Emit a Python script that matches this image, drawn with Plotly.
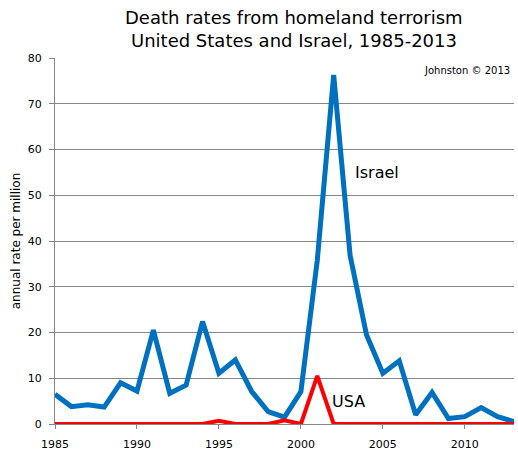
import plotly.graph_objects as go

years = list(range(1985, 2014))
israel = [6.5, 3.8, 4.2, 3.7, 9.0, 7.2, 20.5, 6.7, 8.5, 22.4,
          11.1, 14.0, 7.1, 2.7, 1.5, 7.1, 35.8, 76.3, 36.9, 19.5,
          11.1, 13.8, 2.0, 6.9, 1.2, 1.6, 3.6, 1.6, 0.5]
usa = [0, 0, 0, 0, 0, 0, 0, 0, 0, 0,
       0.7, 0, 0, 0, 0.8, 0, 10.5, 0, 0, 0,
       0, 0, 0, 0, 0, 0, 0, 0, 0]

font = "DejaVu Sans"

fig = go.Figure()
fig.add_trace(go.Scatter(x=years, y=israel, mode="lines", name="Israel",
                         line=dict(color="#0070C0", width=5)))
fig.add_trace(go.Scatter(x=years, y=usa, mode="lines", name="USA",
                         line=dict(color="#FF0000", width=4)))

fig.update_layout(
    width=518, height=455,
    margin=dict(l=55, r=4, t=58, b=31),
    paper_bgcolor="white", plot_bgcolor="white",
    showlegend=False,
    font=dict(family=font, color="black"),
    xaxis=dict(range=[1985, 2013], tickvals=[1985, 1990, 1995, 2000, 2005, 2010],
               showgrid=False, showline=True, linecolor="#868686", linewidth=1,
               ticks="outside", ticklen=4, tickcolor="#868686",
               ticklabelstandoff=6,
               tickfont=dict(size=11), zeroline=False),
    yaxis=dict(range=[0, 80], dtick=10, showgrid=True, gridcolor="#868686",
               gridwidth=1, showline=True, linecolor="#868686",
               ticks="outside", ticklen=5, tickcolor="#868686",
               ticklabelstandoff=5,
               tickfont=dict(size=11), zeroline=False,
               title=dict(text="annual rate per million", font=dict(size=12),
                          standoff=4)),
    annotations=[
        dict(text="Death rates from homeland terrorism", x=0.521, y=1.112,
             xref="paper", yref="paper", showarrow=False,
             xanchor="center", yanchor="middle", font=dict(size=18, family=font)),
        dict(text="United States and Israel, 1985-2013", x=0.521, y=1.049,
             xref="paper", yref="paper", showarrow=False,
             xanchor="center", yanchor="middle", font=dict(size=18, family=font)),
        dict(text="Israel", x=2003.2, y=55, xref="x", yref="y", showarrow=False,
             xanchor="left", font=dict(size=16, family=font)),
        dict(text="USA", x=2001.8, y=5, xref="x", yref="y", showarrow=False,
             xanchor="left", font=dict(size=16, family=font)),
        dict(text="Johnston © 2013", x=0.995, y=0.985, xref="paper", yref="paper",
             showarrow=False, xanchor="right", yanchor="top",
             font=dict(size=10, family=font)),
    ],
)

fig.write_html("out.html", config={"displayModeBar": False},
               post_script="document.body.style.margin='0';")
